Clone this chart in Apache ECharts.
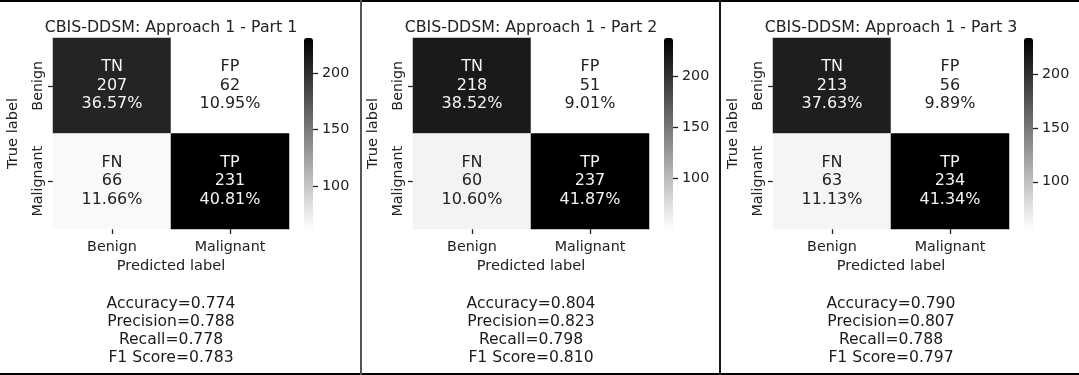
<!DOCTYPE html>
<html>
<head>
<meta charset="utf-8">
<script src="https://cdn.jsdelivr.net/npm/echarts@6/dist/echarts.min.js"></script>
<style>
  html, body { margin: 0; padding: 0; background: #fff; }
  #chart { width: 1079px; height: 375px; }
</style>
</head>
<body>
<div id="chart"></div>
<script>
// data
const panelTitles = ['CBIS-DDSM: Approach 1 - Part 1', 'CBIS-DDSM: Approach 1 - Part 2', 'CBIS-DDSM: Approach 1 - Part 3']
const classLabels = ['Benign', 'Malignant']
const cellNames = ['TN', 'FP', 'FN', 'TP']
const tnCounts = [207, 218, 213]
const fpCounts = [62, 51, 56]
const fnCounts = [66, 60, 63]
const tpCounts = [231, 237, 234]
const accuracy = ['0.774', '0.804', '0.790']
const precision = ['0.788', '0.823', '0.807']
const recall = ['0.778', '0.798', '0.788']
const f1Score = ['0.783', '0.810', '0.797']
const colorbarTicks = [100, 150, 200]

const FONT = 'DejaVu Sans'
const TXT = '#222222'
const offsets = [0, 360, 720]

const chart = echarts.init(document.getElementById('chart'), null, { renderer: 'canvas' })

const grids = [], xAxes = [], yAxes = [], series = [], visualMaps = [], graphics = []

panelTitles.forEach((title, p) => {
  const ox = offsets[p]
  const counts = [tnCounts[p], fpCounts[p], fnCounts[p], tpCounts[p]]
  const total = counts.reduce((a, b) => a + b, 0)
  const vmin = Math.min(...counts), vmax = Math.max(...counts)

  // heatmap grid
  grids.push({ left: ox + 53, top: 38, width: 236, height: 191 })
  const hg = grids.length - 1
  xAxes.push({
    gridIndex: hg, type: 'category', data: classLabels, position: 'bottom',
    axisLine: { show: false }, splitLine: { show: false },
    axisTick: { show: true, alignWithLabel: true, length: 5, lineStyle: { color: TXT, width: 1.3 } },
    axisLabel: { color: TXT, fontFamily: FONT, fontSize: 14.3, margin: 11 },
    name: 'Predicted label', nameLocation: 'middle', nameGap: 30,
    nameTextStyle: { color: TXT, fontFamily: FONT, fontSize: 14.6 }
  })
  yAxes.push({
    gridIndex: hg, type: 'category', data: classLabels, inverse: true,
    axisLine: { show: false }, splitLine: { show: false },
    axisTick: { show: true, alignWithLabel: true, length: 5, lineStyle: { color: TXT, width: 1.3 } },
    axisLabel: { color: TXT, fontFamily: FONT, fontSize: 14.3, rotate: 90, margin: 8 },
    name: 'True label', nameLocation: 'middle', nameGap: 32,
    nameTextStyle: { color: TXT, fontFamily: FONT, fontSize: 14.6 }
  })
  const cells = counts.map((v, i) => {
    const dark = (v - vmin) / (vmax - vmin) > 0.5
    return {
      value: [i % 2, Math.floor(i / 2), v],
      label: { color: dark ? '#f4f4f4' : TXT }
    }
  })
  series.push({
    type: 'heatmap', xAxisIndex: hg, yAxisIndex: hg, data: cells,
    label: {
      show: true, fontFamily: FONT, fontSize: 16, lineHeight: 18.5,
      formatter: (d) => cellNames[d.dataIndex] + '\n' + d.value[2] + '\n' + (d.value[2] / total * 100).toFixed(2) + '%'
    },
    emphasis: { disabled: true }
  })
  visualMaps.push({
    type: 'continuous', seriesIndex: p, min: vmin, max: vmax,
    left: ox + 304, top: 38, itemWidth: 9, itemHeight: 191, padding: 0,
    calculable: false, orient: 'vertical', text: null,
    inRange: { color: ['#ffffff', '#000000'] }
  })

  // colorbar tick axis
  grids.push({ left: ox + 304, top: 38, width: 9, height: 191 })
  const cg = grids.length - 1
  xAxes.push({ gridIndex: cg, type: 'category', data: [''], show: false })
  yAxes.push({
    gridIndex: cg, type: 'value', position: 'right', min: vmin, max: vmax,
    axisLine: { show: false }, splitLine: { show: false },
    axisTick: { show: true, length: 5, customValues: colorbarTicks, lineStyle: { color: TXT, width: 1.3 } },
    axisLabel: { show: true, customValues: colorbarTicks, color: TXT, fontFamily: FONT, fontSize: 14.3, margin: 9 }
  })

  graphics.push({
    type: 'text', x: ox + 171, y: 28,
    style: { text: title, fill: TXT, font: '15.8px "DejaVu Sans"', textAlign: 'center', textVerticalAlign: 'middle' }
  })
  graphics.push({
    type: 'text', x: ox + 171, y: 295,
    style: {
      text: ['Accuracy=' + accuracy[p], 'Precision=' + precision[p], 'Recall=' + recall[p], 'F1 Score=' + f1Score[p]].join('\n'),
      fill: '#1a1a1a', font: '15.6px "DejaVu Sans"', lineHeight: 18, textAlign: 'center', textVerticalAlign: 'top'
    }
  })
})

// frame lines
graphics.push({ type: 'rect', shape: { x: 0, y: 0, width: 1079, height: 2 }, style: { fill: '#000' } })
graphics.push({ type: 'rect', shape: { x: 0, y: 373, width: 1079, height: 2 }, style: { fill: '#000' } })
graphics.push({ type: 'rect', shape: { x: 360, y: 0, width: 2, height: 375 }, style: { fill: '#555' } })
graphics.push({ type: 'rect', shape: { x: 719, y: 0, width: 2, height: 375 }, style: { fill: '#1a1a1a' } })

chart.setOption({
  backgroundColor: '#ffffff',
  animation: false,
  textStyle: { fontFamily: FONT },
  grid: grids,
  xAxis: xAxes,
  yAxis: yAxes,
  visualMap: visualMaps,
  series: series,
  graphic: graphics
})
</script>
</body>
</html>
